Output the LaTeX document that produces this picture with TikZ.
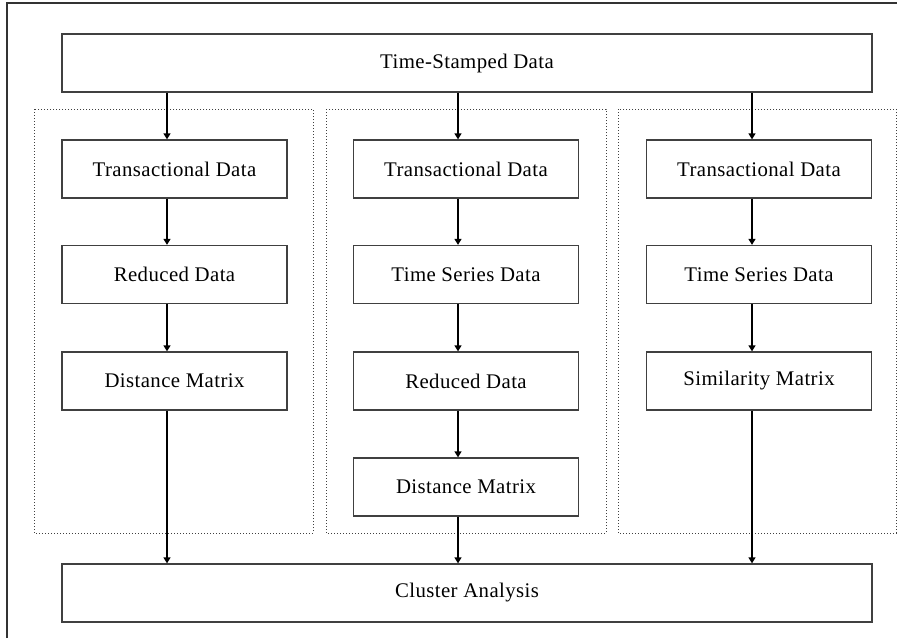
\documentclass[tikz,border=0pt]{standalone}
\usepackage{fontspec}
\setmainfont{Liberation Serif}[LetterSpace=2]
\usetikzlibrary{arrows.meta}
\begin{document}
\begin{tikzpicture}[x=1pt,y=-1pt,
  box/.style={draw=black!75, line width=1.3pt, rectangle, inner sep=0pt,
    minimum height=58pt, font=\fontsize{20.8}{24}\selectfont},
  wide/.style={box, minimum width=810pt},
  colbox/.style={box, minimum width=225pt},
  grp/.style={draw=black!75, line width=1pt, dotted},
  arr/.style={draw=black, line width=1.3pt, -{Triangle[width=7pt,length=6pt]}},
  frame/.style={draw=black!80, line width=1.3pt}]
\useasboundingbox (0,0) rectangle (897,638);
% outer frame (only left and top visible)
\draw[frame] (7,638) -- (7,3) -- (897,3);
% group boxes
\draw[grp] (34,109) rectangle (313,533);
\draw[grp] (326,109) rectangle (606,533);
\draw[grp] (618,109) rectangle (896,533);
% main boxes
\node[wide] (top) at (467,63) {Time-Stamped Data};
\node[wide] (bot) at (467,593) {Cluster Analysis};
% left column
\node[colbox] (l1) at (174.5,169) {Transactional Data};
\node[colbox] (l2) at (174.5,274.5) {Reduced Data};
\node[colbox] (l3) at (174.5,381) {Distance Matrix};
% middle column
\node[colbox] (m1) at (466,169) {Transactional Data};
\node[colbox] (m2) at (466,274.5) {Time Series Data};
\node[colbox] (m3) at (466,381) {Reduced Data};
\node[colbox] (m4) at (466,487) {Distance Matrix};
% right column
\node[colbox] (r1) at (759,169) {Transactional Data};
\node[colbox] (r2) at (759,274.5) {Time Series Data};
\node[colbox] (r3) at (759,381) {Similarity Matrix};
% arrow lanes
\coordinate (cl) at (167,0);
\coordinate (cm) at (458,0);
\coordinate (cr) at (752,0);
% arrows
\draw[arr] (top.south -| cl) -- (l1.north -| cl);
\draw[arr] (l1.south -| cl) -- (l2.north -| cl);
\draw[arr] (l2.south -| cl) -- (l3.north -| cl);
\draw[arr] (l3.south -| cl) -- (bot.north -| cl);
\draw[arr] (top.south -| cm) -- (m1.north -| cm);
\draw[arr] (m1.south -| cm) -- (m2.north -| cm);
\draw[arr] (m2.south -| cm) -- (m3.north -| cm);
\draw[arr] (m3.south -| cm) -- (m4.north -| cm);
\draw[arr] (m4.south -| cm) -- (bot.north -| cm);
\draw[arr] (top.south -| cr) -- (r1.north -| cr);
\draw[arr] (r1.south -| cr) -- (r2.north -| cr);
\draw[arr] (r2.south -| cr) -- (r3.north -| cr);
\draw[arr] (r3.south -| cr) -- (bot.north -| cr);
\end{tikzpicture}
\end{document}
